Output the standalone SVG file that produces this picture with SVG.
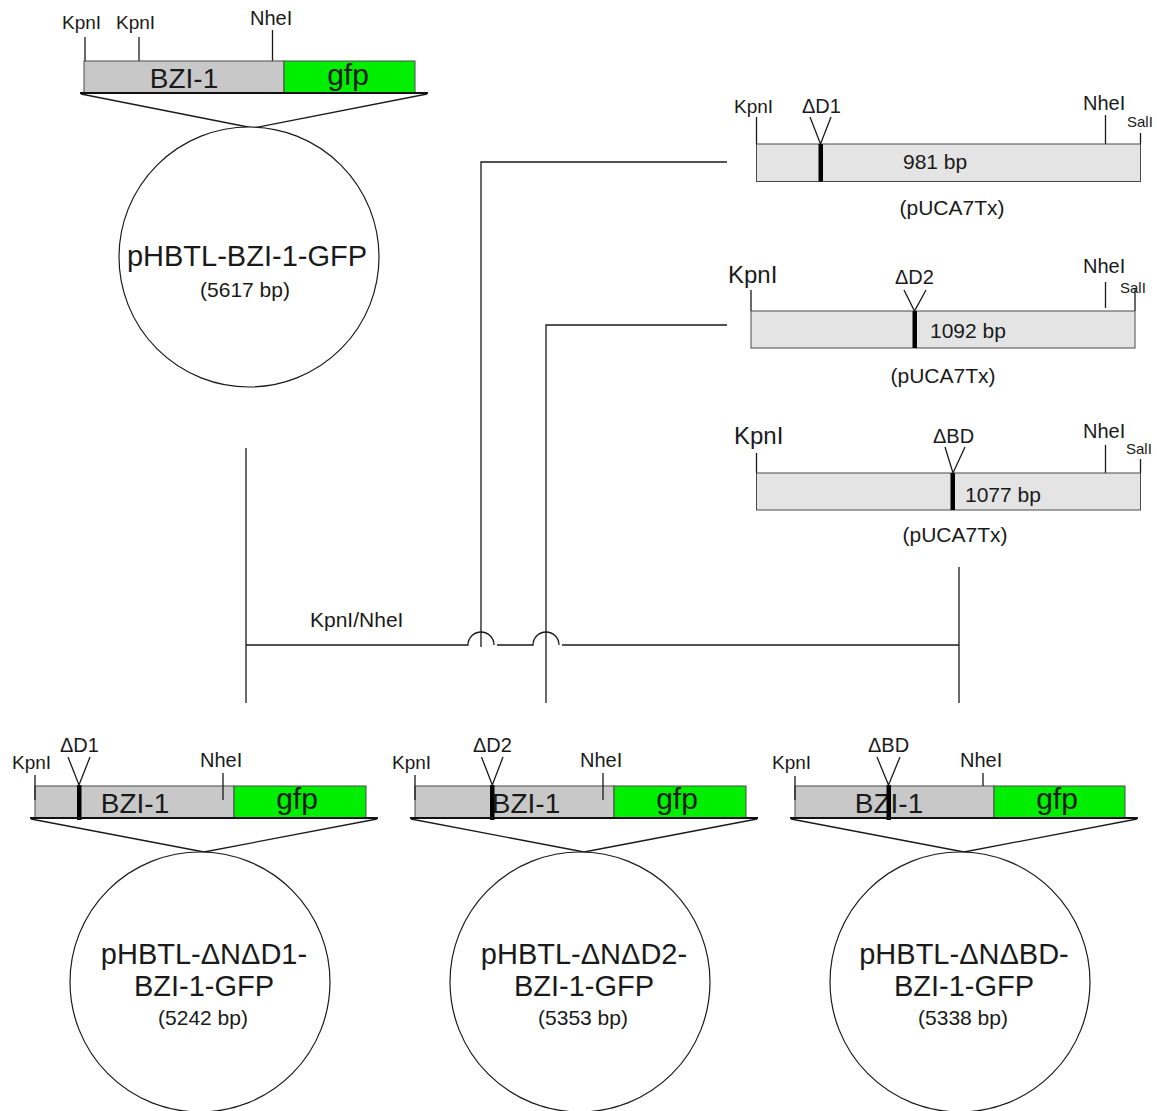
<svg xmlns="http://www.w3.org/2000/svg" width="1157" height="1111" viewBox="0 0 1157 1111">
<defs>
<style>
text{font-family:"Liberation Sans",Arial,sans-serif;fill:#1a1a1a}
.ln{stroke:#1a1a1a;stroke-width:1.3;fill:none}
.base{stroke:#111;stroke-width:2.2;fill:none}
.bzi{fill:#c8c8c8;stroke:#4a4a4a;stroke-width:1}
.gfp{fill:#00ee00;stroke:#4a4a4a;stroke-width:1}
.frag{fill:#e4e4e4;stroke:#4a4a4a;stroke-width:1}
.mark{fill:#000}
.circ{fill:#fff;stroke:#1a1a1a;stroke-width:1.2}
.lbl{font-size:19px}
.dl{font-size:20px}
.big{font-size:24px}
.sal{font-size:15px}
.bp{font-size:21px}
.seg{font-size:28px}
.gf{font-size:30px}
.pl{font-size:29px;text-anchor:middle}
.sz{font-size:21px;text-anchor:middle}
.mid{text-anchor:middle}
</style>
</defs>
<rect width="1157" height="1111" fill="#fff"/>

<g id="connectors">
<path class="ln" d="M246,448 V703"/>
<path class="ln" d="M246,645 H468 A13,13 0 0 1 494,645 M497,645 H533 A13,13 0 0 1 559,645 M562,645 H959"/>
<path class="ln" d="M727,162 H481 V647"/>
<path class="ln" d="M727,325 H546 V703"/>
<path class="ln" d="M959,567 V703"/>
<text x="310" y="627" style="font-size:21px">KpnI/NheI</text>
</g>

<g id="pHBTL-BZI-1-GFP">
<line class="ln" x1="85" y1="37" x2="85" y2="61"/>
<line class="ln" x1="139" y1="37" x2="139" y2="61"/>
<line class="ln" x1="272.5" y1="30" x2="272.5" y2="61"/>
<text class="lbl" x="62" y="29">KpnI</text>
<text class="lbl" x="116" y="29">KpnI</text>
<text class="dl" x="250" y="25">NheI</text>
<rect class="bzi" x="84" y="61" width="200" height="32"/>
<rect class="gfp" x="284" y="61" width="131" height="32"/>
<text class="seg mid" x="184" y="88">BZI-1</text>
<text class="gf mid" x="348" y="85">gfp</text>
<path class="ln" d="M81,94 L253,128 L427,94"/>
<line class="base" x1="80" y1="93" x2="428" y2="93"/>
<circle class="circ" cx="249" cy="257" r="130"/>
<text class="pl" x="247" y="266">pHBTL-BZI-1-GFP</text>
<text class="sz" x="245" y="297">(5617 bp)</text>
</g>

<g id="frag-D1">
<line class="ln" x1="756.5" y1="117" x2="756.5" y2="144"/>
<line class="ln" x1="1105.5" y1="115" x2="1105.5" y2="144"/>
<line class="ln" x1="1140.5" y1="133" x2="1140.5" y2="144"/>
<text class="lbl" x="734" y="113">KpnI</text>
<text class="dl" x="802" y="113">ΔD1</text>
<text class="dl" x="1083" y="110">NheI</text>
<text class="sal" x="1127" y="127">SalI</text>
<rect class="frag" x="756.5" y="144" width="384" height="37.5"/>
<rect class="mark" x="818.5" y="144" width="4.5" height="37.5"/>
<path class="ln" d="M810,117 L820.5,144 L831,117"/>
<text class="bp" x="903" y="169">981 bp</text>
<text class="bp mid" x="952" y="215">(pUCA7Tx)</text>
</g>

<g id="frag-D2">
<line class="ln" x1="751" y1="290" x2="751" y2="311"/>
<line class="ln" x1="1105.5" y1="282" x2="1105.5" y2="308"/>
<line class="ln" x1="1135" y1="288" x2="1135" y2="311"/>
<text class="big" x="728" y="283">KpnI</text>
<text class="dl" x="895" y="284">ΔD2</text>
<text class="dl" x="1083" y="273">NheI</text>
<text class="sal" x="1120" y="293">SalI</text>
<rect class="frag" x="751" y="311" width="384" height="37"/>
<rect class="mark" x="912.5" y="311" width="4.5" height="37"/>
<path class="ln" d="M904,290 L914.5,311 L926,290"/>
<text class="bp" x="930" y="338">1092 bp</text>
<text class="bp mid" x="943" y="383">(pUCA7Tx)</text>
</g>

<g id="frag-BD">
<line class="ln" x1="756.5" y1="453" x2="756.5" y2="473"/>
<line class="ln" x1="1105.5" y1="445" x2="1105.5" y2="473"/>
<line class="ln" x1="1140.5" y1="459" x2="1140.5" y2="473"/>
<text class="big" x="734" y="444">KpnI</text>
<text class="dl" x="933" y="443">ΔBD</text>
<text class="dl" x="1083" y="438">NheI</text>
<text class="sal" x="1126" y="454">SalI</text>
<rect class="frag" x="756.5" y="473" width="384" height="37"/>
<rect class="mark" x="950.5" y="473" width="4.5" height="37"/>
<path class="ln" d="M945,447 L953,473 L965,447"/>
<text class="bp" x="965" y="502">1077 bp</text>
<text class="bp mid" x="955" y="542">(pUCA7Tx)</text>
</g>

<g id="pHBTL-dNdD1-BZI-1-GFP">
<rect class="bzi" x="35" y="786" width="199" height="32"/>
<rect class="gfp" x="234" y="786" width="132" height="32"/>
<line class="ln" x1="35" y1="775" x2="35" y2="800"/>
<line class="ln" x1="223" y1="773" x2="223" y2="800"/>
<text class="lbl" x="12" y="769">KpnI</text>
<text class="dl" x="60" y="752">ΔD1</text>
<text class="dl" x="200" y="767">NheI</text>
<text class="seg mid" x="135" y="813">BZI-1</text>
<text class="gf mid" x="297" y="809">gfp</text>
<rect class="mark" x="77" y="785" width="4.5" height="35"/>
<path class="ln" d="M68,757 L79,785 L90,757"/>
<path class="ln" d="M31,819 L204,852 L377,819"/>
<line class="base" x1="30" y1="818" x2="378" y2="818"/>
<circle class="circ" cx="200" cy="982" r="130"/>
<text class="pl" x="204" y="964">pHBTL-ΔNΔD1-</text>
<text class="pl" x="204" y="996">BZI-1-GFP</text>
<text class="sz" x="203" y="1025">(5242 bp)</text>
</g>

<g id="pHBTL-dNdD2-BZI-1-GFP">
<rect class="bzi" x="415" y="786" width="199" height="32"/>
<rect class="gfp" x="614" y="786" width="132" height="32"/>
<line class="ln" x1="415" y1="775" x2="415" y2="800"/>
<line class="ln" x1="603" y1="773" x2="603" y2="800"/>
<text class="lbl" x="392" y="769">KpnI</text>
<text class="dl" x="473" y="752">ΔD2</text>
<text class="dl" x="580" y="767">NheI</text>
<text class="seg mid" x="526" y="813">BZI-1</text>
<text class="gf mid" x="677" y="809">gfp</text>
<rect class="mark" x="490" y="785" width="4.5" height="35"/>
<path class="ln" d="M481.5,757 L492.3,785 L503,757"/>
<path class="ln" d="M411,819 L584,852 L757,819"/>
<line class="base" x1="410" y1="818" x2="758" y2="818"/>
<circle class="circ" cx="580" cy="982" r="130"/>
<text class="pl" x="584" y="964">pHBTL-ΔNΔD2-</text>
<text class="pl" x="584" y="996">BZI-1-GFP</text>
<text class="sz" x="583" y="1025">(5353 bp)</text>
</g>

<g id="pHBTL-dNdBD-BZI-1-GFP">
<rect class="bzi" x="795" y="786" width="199" height="32"/>
<rect class="gfp" x="994" y="786" width="131" height="32"/>
<line class="ln" x1="795" y1="776" x2="795" y2="800"/>
<line class="ln" x1="983" y1="773" x2="983" y2="786"/>
<text class="lbl" x="772" y="769">KpnI</text>
<text class="dl" x="868" y="752">ΔBD</text>
<text class="dl" x="960" y="767">NheI</text>
<text class="seg mid" x="889" y="813">BZI-1</text>
<text class="gf mid" x="1057" y="809">gfp</text>
<rect class="mark" x="886.5" y="785" width="4.5" height="35"/>
<path class="ln" d="M877,757 L888.5,785 L900,757"/>
<path class="ln" d="M791,819 L964,852 L1137,819"/>
<line class="base" x1="790" y1="818" x2="1138" y2="818"/>
<circle class="circ" cx="960" cy="982" r="130"/>
<text class="pl" x="964" y="964">pHBTL-ΔNΔBD-</text>
<text class="pl" x="964" y="996">BZI-1-GFP</text>
<text class="sz" x="963" y="1025">(5338 bp)</text>
</g>
</svg>
